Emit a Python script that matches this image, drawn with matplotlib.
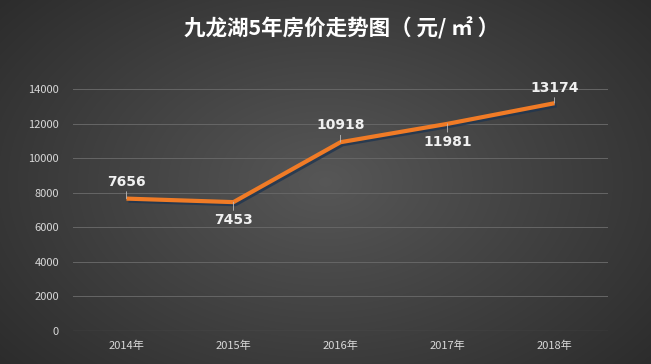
import numpy as np
import matplotlib.pyplot as plt
import matplotlib.patheffects as pe

plt.rcParams['font.family'] = ['Noto Sans CJK SC', 'DejaVu Sans']

# data
years = ['2014年', '2015年', '2016年', '2017年', '2018年']
prices = [7656, 7453, 10918, 11981, 13174]
label_dy = [7, -8, 7, -8, 6]   # label above (+) or below (-) the point, in points
yticks = [0, 2000, 4000, 6000, 8000, 10000, 12000, 14000]

fig = plt.figure(figsize=(6.51, 3.64), dpi=100)

# dark radial gradient background
bg = fig.add_axes([0, 0, 1, 1])
gx, gy = np.meshgrid(np.linspace(-1, 1, 651), np.linspace(-1, 1, 364))
r = np.sqrt((gx / 1.1) ** 2 + (gy / 1.3) ** 2)
shade = 0.34 - 0.14 * np.clip(r, 0, 1.2)
bg.imshow(np.dstack([shade, shade, shade]), aspect='auto', extent=[0, 1, 0, 1])
bg.axis('off')

ax = fig.add_axes([0.112, 0.0907, 0.822, 0.665])
ax.patch.set_alpha(0)
x = np.arange(len(years))
ax.plot(x, prices, color='#f07b26', lw=3, solid_capstyle='butt', zorder=3,
        path_effects=[pe.SimpleLineShadow(offset=(1.5, -1.5), shadow_color='#1f3550', alpha=0.8),
                      pe.Normal()])

for xi, v, dy in zip(x, prices, label_dy):
    ax.annotate(str(v), (xi, v), xytext=(0, dy), textcoords='offset points',
                ha='center', va='bottom' if dy > 0 else 'top', color='#f0f0f0',
                fontsize=10, fontweight='bold', family='DejaVu Sans',
                arrowprops=dict(arrowstyle='-', color='#bbbbbb', lw=0.6, shrinkA=0, shrinkB=0))

ax.set_xlim(-0.5, len(years) - 0.5)
ax.set_ylim(0, 14000)
ax.set_xticks(x)
ax.set_xticklabels(years)
ax.set_yticks(yticks)
ax.tick_params(colors='#d8d8d8', labelsize=8, length=0)
ax.tick_params(axis='y', pad=10)
ax.tick_params(axis='x', pad=7)
ax.grid(axis='y', color='#666666', lw=0.7)
ax.set_axisbelow(True)
for s in ax.spines.values():
    s.set_visible(False)
ax.axhline(0, color='#8a8a8a', lw=0.8)

fig.text(0.525, 0.923, '九龙湖5年房价走势图（ 元/ ㎡ ）', ha='center', va='center',
         color='white', fontsize=15.5, fontweight='bold')

fig.savefig('out.png', dpi=100)
